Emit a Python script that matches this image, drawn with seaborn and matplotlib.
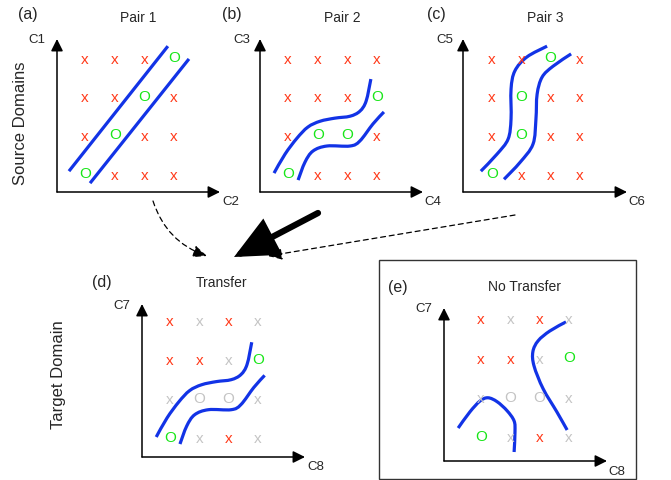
import numpy as np
import pandas as pd
import matplotlib
matplotlib.use("Agg")
import matplotlib.pyplot as plt
import seaborn as sns
from matplotlib.patches import FancyArrowPatch, Rectangle, PathPatch
from matplotlib.path import Path

# ---------------- data ----------------
panel_tags = ["(a)", "(b)", "(c)", "(d)", "(e)"]
panel_titles = ["Pair 1", "Pair 2", "Pair 3", "Transfer", "No Transfer"]
x_axis_labels = ["C2", "C4", "C6", "C8", "C8"]
y_axis_labels = ["C1", "C3", "C5", "C7", "C7"]
row_labels = ["Source Domains", "Target Domain"]

# symbols per grid row (top row first)
symbols_a = ["xxxO", "xxOx", "xOxx", "Oxxx"]
symbols_b = ["xxxx", "xxxO", "xOOx", "Oxxx"]
symbols_c = ["xxOx", "xOxx", "xOxx", "Oxxx"]
symbols_d = ["xxxx", "xxxO", "xOOx", "Oxxx"]
symbols_e = ["xxxx", "xxxO", "xOOx", "Oxxx"]
# colour codes: r = red, g = green, k = grey (unlabelled)
colors_a = ["rrrg", "rrgr", "rgrr", "grrr"]
colors_b = ["rrrr", "rrrg", "rggr", "grrr"]
colors_c = ["rrgr", "rgrr", "rgrr", "grrr"]
colors_d = ["rkrk", "rrkg", "kkkk", "gkrk"]
colors_e = ["rkrk", "rrkg", "kkkk", "gkrk"]

# decision boundaries in grid units (column index, row index from bottom)
curve_a1_x = [-0.54, 2.79]
curve_a1_y = [0.05, 3.28]
curve_a2_x = [0.17, 3.50]
curve_a2_y = [-0.26, 2.95]
curve_b1_x = [-0.47, -0.10, 0.30, 0.67, 1.08, 1.58, 2.09, 2.42, 2.63, 2.79]
curve_b1_y = [0.00, 0.49, 0.90, 1.19, 1.34, 1.42, 1.47, 1.60, 1.86, 2.43]
curve_b2_x = [0.34, 0.57, 0.84, 1.31, 2.09, 2.42, 2.86, 3.23]
curve_b2_y = [-0.18, 0.28, 0.57, 0.70, 0.70, 0.83, 1.27, 1.58]
curve_c1_x = [-0.38, 0.17, 0.55, 0.65, 0.65, 0.78, 1.19, 1.88]
curve_c1_y = [0.05, 0.49, 0.88, 1.40, 2.17, 2.64, 3.00, 3.28]
curve_c2_x = [0.41, 0.96, 1.40, 1.50, 1.54, 1.71, 2.08, 2.70]
curve_c2_y = [-0.16, 0.28, 0.75, 1.40, 2.04, 2.48, 2.76, 3.08]
curve_e1_x = [-0.78, -0.38, -0.03, 0.24, 0.55, 0.89, 1.13, 1.16, 1.13]
curve_e1_y = [0.20, 0.61, 0.89, 0.97, 0.87, 0.64, 0.38, 0.10, -0.41]
curve_e2_x = [2.90, 2.35, 1.95, 1.77, 1.81, 2.12, 2.59, 2.94]
curve_e2_y = [2.90, 2.67, 2.42, 2.14, 1.78, 1.20, 0.61, 0.15]

panel_symbols = [symbols_a, symbols_b, symbols_c, symbols_d, symbols_e]
panel_colors = [colors_a, colors_b, colors_c, colors_d, colors_e]
panel_curves = [
    [(curve_a1_x, curve_a1_y), (curve_a2_x, curve_a2_y)],
    [(curve_b1_x, curve_b1_y), (curve_b2_x, curve_b2_y)],
    [(curve_c1_x, curve_c1_y), (curve_c2_x, curve_c2_y)],
    [(curve_b1_x, curve_b1_y), (curve_b2_x, curve_b2_y)],
    [(curve_e1_x, curve_e1_y), (curve_e2_x, curve_e2_y)],
]

# ---------------- layout (pixel space) ----------------
layout = [
    dict(ox=57, oy=193, top=40, right=220, cx=85, dx=29.7, ry=58, dy=38.7,
         ylab=(37, 40), xlab=(231, 202), tag=(28, 14), title=(138, 18)),
    dict(ox=260, oy=193, top=40, right=423, cx=288, dx=29.7, ry=58, dy=38.7,
         ylab=(242, 40), xlab=(433, 202), tag=(232, 14), title=(342, 18)),
    dict(ox=463, oy=193, top=40, right=627, cx=492, dx=29.3, ry=58, dy=38.7,
         ylab=(445, 40), xlab=(637, 202), tag=(436, 14), title=(545, 18)),
    dict(ox=142, oy=458, top=305, right=305, cx=170, dx=29.3, ry=321, dy=39.0,
         ylab=(122, 306), xlab=(316, 467), tag=(102, 283), title=(222, 283)),
    dict(ox=444, oy=462, top=309, right=607, cx=481, dx=29.3, ry=319, dy=39.3,
         ylab=(424, 309), xlab=(617, 472), tag=(398, 288), title=(525, 287)),
]

color_map = {"r": "#ff3a1a", "g": "#19e619", "k": "#c4c4c4"}
blue = "#1233e6"

sns.set_style("white")
plt.rcParams["font.family"] = ["Liberation Sans", "DejaVu Sans"]

fig = plt.figure(figsize=(6.71, 4.81), dpi=100)
ax = fig.add_axes([0, 0, 1, 1])


def smooth_path(xs, ys):
    """Catmull-Rom through the read points, expressed as cubic Bezier segments."""
    pts = np.column_stack([xs, ys]).astype(float)
    n = len(pts)
    verts = [pts[0]]
    codes = [Path.MOVETO]
    for i in range(n - 1):
        p0 = pts[max(i - 1, 0)]
        p1 = pts[i]
        p2 = pts[i + 1]
        p3 = pts[min(i + 2, n - 1)]
        c1 = p1 + (p2 - p0) / 6.0
        c2 = p2 - (p3 - p1) / 6.0
        verts += [c1, c2, p2]
        codes += [Path.CURVE4] * 3
    return Path(verts, codes)


arrow_kw = dict(arrowstyle="-|>,head_length=0.6,head_width=0.3", color="black",
                lw=1.1, mutation_scale=12, shrinkA=0, shrinkB=0)

for p, L in enumerate(layout):
    ax.add_patch(FancyArrowPatch((L["ox"], L["oy"]), (L["ox"], L["top"]), **arrow_kw))
    ax.add_patch(FancyArrowPatch((L["ox"], L["oy"]), (L["right"], L["oy"]), **arrow_kw))
    ax.text(*L["ylab"], y_axis_labels[p], ha="center", va="center", fontsize=9.5)
    ax.text(*L["xlab"], x_axis_labels[p], ha="center", va="center", fontsize=9.5)
    ax.text(*L["tag"], panel_tags[p], ha="center", va="center", fontsize=11.5)
    ax.text(*L["title"], panel_titles[p], ha="center", va="center", fontsize=10)
    for r, (srow, crow) in enumerate(zip(panel_symbols[p], panel_colors[p])):
        for c, (s, col) in enumerate(zip(srow, crow)):
            ax.text(L["cx"] + c * L["dx"], L["ry"] + r * L["dy"], s,
                    ha="center", va="center_baseline" if s == "x" else "center",
                    fontsize=11, color=color_map[col])
    bottom = L["ry"] + 3 * L["dy"]
    for gx, gy in panel_curves[p]:
        px = [L["cx"] + v * L["dx"] for v in gx]
        py = [bottom - v * L["dy"] for v in gy]
        if len(px) == 2:
            df = pd.DataFrame({"x": px, "y": py})
            sns.lineplot(data=df, x="x", y="y", sort=False, estimator=None, ax=ax,
                         color=blue, lw=2.3, solid_capstyle="butt")
        else:
            ax.add_patch(PathPatch(smooth_path(px, py), fill=False, ec=blue, lw=2.3,
                                   capstyle="butt"))

ax.set_xlim(0, 671)
ax.set_ylim(481, 0)
ax.axis("off")

ax.text(21, 123, row_labels[0], rotation=90, ha="center", va="center", fontsize=12)
ax.text(58, 375, row_labels[1], rotation=90, ha="center", va="center", fontsize=12)

ax.add_patch(Rectangle((379, 261), 257, 219, fill=False, ec="#333333", lw=1.0))

ax.add_patch(FancyArrowPatch((153, 202), (207, 257), connectionstyle="arc3,rad=0.25",
                             arrowstyle="-|>,head_length=0.7,head_width=0.3", mutation_scale=12,
                             color="black", lw=0.9, linestyle=(0, (4, 3)), shrinkA=0, shrinkB=0))
ax.add_patch(FancyArrowPatch((318, 214), (234, 258),
                             arrowstyle="-|>,head_length=0.6,head_width=0.28", mutation_scale=40,
                             color="black", lw=4.5, shrinkA=0, shrinkB=0, capstyle="round",
                             joinstyle="miter"))
ax.add_patch(FancyArrowPatch((515, 216), (268, 257),
                             arrowstyle="-|>,head_length=0.7,head_width=0.3", mutation_scale=12,
                             color="black", lw=0.9, linestyle=(0, (4, 3)), shrinkA=0, shrinkB=0))

fig.savefig("out.png", dpi=100)
